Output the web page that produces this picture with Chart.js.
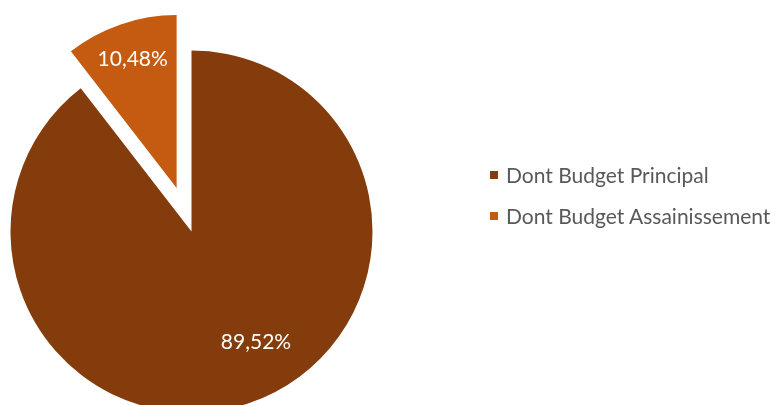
<!DOCTYPE html>
<html lang="fr">
<head>
<meta charset="utf-8">
<script src="https://cdn.jsdelivr.net/npm/chart.js@4.4.1/dist/chart.umd.min.js"></script>
<style>
    html, body { margin: 0; padding: 0; background: #ffffff; }
    #wrap { position: relative; width: 772px; height: 405px; overflow: hidden; }
    #budgetChart { position: absolute; left: 0; top: 0; }
    #budgetLegend {
        position: absolute; left: 490px; top: 154px;
        margin: 0; padding: 0; list-style: none;
        font-family: Lato, 'Open Sans', sans-serif; font-size: 21px; color: #595959;
    }
    #budgetLegend li { display: flex; align-items: center; height: 41px; white-space: nowrap; }
    #budgetLegend .box { width: 8px; height: 8px; margin-right: 8px; flex: none; }
</style>
</head>
<body>
<div id="wrap">
    <canvas id="budgetChart" width="772" height="405"></canvas>
    <ul id="budgetLegend"></ul>
</div>
<script>
// Répartition du budget (en %)
const budgetLabels = ['Dont Budget Principal', 'Dont Budget Assainissement'];
const budgetShares = [89.52, 10.48];
const budgetColors = ['#843C0C', '#C55A11'];

const fmtPct = v => v.toFixed(2).replace('.', ',') + '%';

// Part détachée du camembert (décalée le long de sa bissectrice, un peu plus petite)
const explodePlugin = {
    id: 'explode',
    afterDatasetUpdate(chart, args, opts) {
        (opts.slices || []).forEach(s => {
            const arc = args.meta.data[s.index];
            if (!arc) return;
            const mid = (arc.startAngle + arc.endAngle) / 2;
            arc.x += Math.cos(mid) * s.distance;
            arc.y += Math.sin(mid) * s.distance;
            arc.outerRadius *= s.scale;
        });
    }
};

// Étiquettes de pourcentage dans les parts
const sliceLabelPlugin = {
    id: 'sliceLabels',
    afterDatasetsDraw(chart, args, opts) {
        const ctx = chart.ctx;
        const meta = chart.getDatasetMeta(0);
        ctx.save();
        ctx.font = opts.font;
        ctx.fillStyle = opts.color;
        ctx.textAlign = 'center';
        ctx.textBaseline = 'middle';
        meta.data.forEach((arc, i) => {
            const p = opts.placement[i] || {};
            const angle = (arc.startAngle + arc.endAngle) / 2 + (p.turn || 0) * Math.PI / 180;
            const r = arc.outerRadius * (p.radius || 0.7);
            ctx.fillText(fmtPct(budgetShares[i]), arc.x + Math.cos(angle) * r, arc.y + Math.sin(angle) * r);
        });
        ctx.restore();
    }
};

// Légende HTML construite à partir des libellés du graphique
const htmlLegendPlugin = {
    id: 'htmlLegend',
    afterUpdate(chart, args, opts) {
        const ul = document.getElementById(opts.containerID);
        ul.innerHTML = '';
        const items = chart.options.plugins.legend.labels.generateLabels(chart);
        items.forEach(item => {
            const li = document.createElement('li');
            const box = document.createElement('span');
            box.className = 'box';
            box.style.background = item.fillStyle;
            const text = document.createElement('span');
            text.textContent = item.text;
            li.appendChild(box);
            li.appendChild(text);
            ul.appendChild(li);
        });
    }
};

const ctx = document.getElementById('budgetChart');
const budgetChart = new Chart(ctx, {
    type: 'pie',
    data: {
        labels: budgetLabels,
        datasets: [{
            data: budgetShares,
            backgroundColor: budgetColors,
            borderWidth: 0,
            clip: false
        }]
    },
    options: {
        responsive: false,
        animation: false,
        radius: 181,
        layout: { padding: { top: 58, right: 389, bottom: 0, left: 0 } },
        plugins: {
            legend: { display: false },
            tooltip: { enabled: false },
            explode: { slices: [{ index: 1, distance: 46, scale: 0.955 }] },
            sliceLabels: {
                font: '21px Lato, "Open Sans", sans-serif',
                color: '#ffffff',
                placement: [{ radius: 0.707, turn: -11.4 }, { radius: 0.786, turn: 0 }]
            },
            htmlLegend: { containerID: 'budgetLegend' }
        }
    },
    plugins: [explodePlugin, sliceLabelPlugin, htmlLegendPlugin]
});
</script>
</body>
</html>
